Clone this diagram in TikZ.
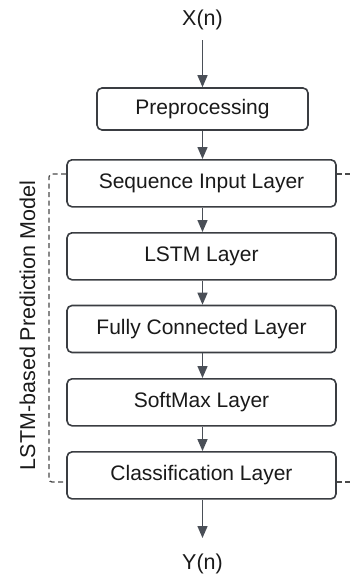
\documentclass[tikz,border=0pt]{standalone}
\usepackage{fontspec}
\setmainfont{Liberation Sans}
\usetikzlibrary{arrows.meta,calc}
\definecolor{boxline}{HTML}{3A3D42}
\definecolor{arrowcol}{HTML}{4A4F57}
\definecolor{dashcol}{HTML}{4A4A4A}
\definecolor{txt}{HTML}{1A1A1A}
\tikzset{
  layer/.style={draw=boxline, line width=1.6pt, rounded corners=5pt, fill=white,
    minimum width=269pt, minimum height=47pt, inner sep=0pt, text=txt,
    font=\fontsize{21}{25}\selectfont},
  label/.style={text=txt, inner sep=0pt, font=\fontsize{21.5}{25}\selectfont},
  flow/.style={draw=arrowcol, line width=1.4pt,
    -{Triangle[length=12pt,width=10pt]}},
  groupline/.style={draw=dashcol, line width=1.3pt, dash pattern=on 5pt off 3.5pt,
    rounded corners=3pt}
}
\begin{document}
\begin{tikzpicture}[x=1pt,y=-1pt]
\useasboundingbox (0,0) rectangle (352,579);

\node[label] (x) at (202.5,20) {X(n)};
\node[layer, minimum width=211pt, minimum height=42pt] (pre) at (202.5,109) {Preprocessing};
\node[layer] (seq)  at (201.5,183.3) {Sequence Input Layer};
\node[layer] (lstm) at (201.5,256.3) {LSTM Layer};
\node[layer] (fc)   at (201.5,329) {Fully Connected Layer};
\node[layer] (soft) at (201.5,402.3) {SoftMax Layer};
\node[layer] (cls)  at (201.5,475.4) {Classification Layer};
\node[label] (y) at (202.5,564) {Y(n)};

% model group bracket
\coordinate (tl) at (49,174);
\coordinate (bl) at (49,482);
\coordinate (tr) at (352,174);
\coordinate (br) at (352,482);
\draw[groupline] (seq.west |- tl) -- (tl) -- (bl) -- (cls.west |- bl);
\draw[groupline] (seq.east |- tr) -- (tr);
\draw[groupline] (cls.east |- br) -- (br);
\node[label, rotate=90] (grp) at (27.5,325.5) {LSTM-based Prediction Model};

% data flow
\coordinate (xin) at (202.5,40);
\coordinate (yout) at (202.5,538);
\draw[flow] (xin) -- (pre.north);
\draw[flow] (pre.south) -- (pre.south |- seq.north);
\draw[flow] (seq.south -| pre.south) -- (lstm.north -| pre.south);
\draw[flow] (lstm.south -| pre.south) -- (fc.north -| pre.south);
\draw[flow] (fc.south -| pre.south) -- (soft.north -| pre.south);
\draw[flow] (soft.south -| pre.south) -- (cls.north -| pre.south);
\draw[flow] (cls.south -| pre.south) -- (yout);
\end{tikzpicture}
\end{document}
